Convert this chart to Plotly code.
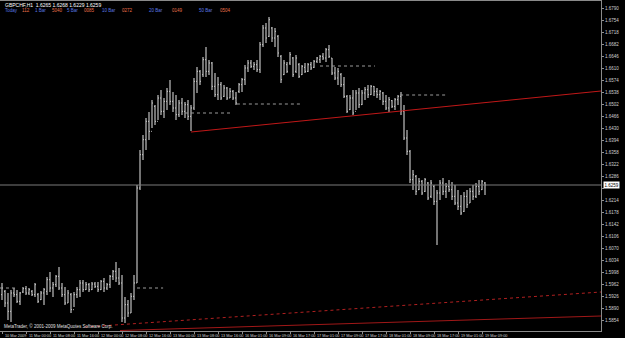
import plotly.graph_objects as go

# ---------------- data ----------------
bar_index = list(range(162))
open_ = [1.5930,1.5940,1.5905,1.5880,1.5935,1.5930,1.5910,1.5938,1.5948,1.5935,
         1.5940,1.5930,1.5930,1.5915,1.5935,1.5940,1.5975,1.5950,1.5960,1.5985,
         1.5950,1.5930,1.5905,1.5930,1.5885,1.5930,1.5945,1.5965,1.5945,1.5960,
         1.5945,1.5962,1.5955,1.5945,1.5970,1.5950,1.5960,1.5985,1.6000,1.5980,
         1.5965,1.5860,1.5900,1.5875,1.5925,1.5965,1.6250,1.6350,1.6395,1.6450,
         1.6420,1.6495,1.6450,1.6520,1.6480,1.6510,1.6540,1.6510,1.6490,1.6470,
         1.6505,1.6480,1.6500,1.6465,1.6490,1.6570,1.6600,1.6590,1.6635,1.6600,
         1.6625,1.6555,1.6530,1.6560,1.6525,1.6550,1.6520,1.6540,1.6520,1.6540,
         1.6560,1.6575,1.6610,1.6625,1.6615,1.6620,1.6605,1.6680,1.6730,1.6705,
         1.6730,1.6700,1.6705,1.6645,1.6590,1.6620,1.6625,1.6640,1.6600,1.6620,
         1.6590,1.6612,1.6600,1.6620,1.6612,1.6630,1.6635,1.6645,1.6640,1.6665,
         1.6640,1.6595,1.6580,1.6590,1.6560,1.6525,1.6485,1.6520,1.6480,1.6535,
         1.6500,1.6535,1.6545,1.6530,1.6555,1.6540,1.6530,1.6535,1.6510,1.6490,
         1.6512,1.6495,1.6515,1.6525,1.6480,1.6400,1.6360,1.6275,1.6285,1.6245,
         1.6270,1.6240,1.6265,1.6225,1.6255,1.6210,1.6235,1.6265,1.6240,1.6255,
         1.6245,1.6225,1.6205,1.6195,1.6180,1.6225,1.6205,1.6240,1.6225,1.6255,
         1.6245,1.6265]
high = [1.5965,1.5944,1.5935,1.5944,1.5950,1.5944,1.5938,1.5953,1.5956,1.5950,
        1.5944,1.5965,1.5935,1.5941,1.5950,1.5983,1.5998,1.5968,1.5989,1.6013,
        1.5965,1.5953,1.5944,1.5935,1.5938,1.5953,1.5974,1.5974,1.5968,1.5965,
        1.5968,1.5968,1.5968,1.5974,1.5980,1.5965,1.5989,1.6004,1.6028,1.6010,
        1.5989,1.5923,1.5914,1.5935,1.5989,1.6259,1.6364,1.6409,1.6460,1.6478,
        1.6514,1.6499,1.6529,1.6544,1.6520,1.6550,1.6574,1.6538,1.6529,1.6514,
        1.6520,1.6508,1.6514,1.6499,1.6580,1.6613,1.6604,1.6643,1.6673,1.6634,
        1.6628,1.6595,1.6583,1.6568,1.6559,1.6553,1.6550,1.6544,1.6538,1.6565,
        1.6580,1.6619,1.6634,1.6634,1.6628,1.6634,1.6688,1.6739,1.6745,1.6763,
        1.6733,1.6730,1.6709,1.6649,1.6634,1.6628,1.6658,1.6643,1.6649,1.6625,
        1.6619,1.6625,1.6625,1.6628,1.6634,1.6643,1.6649,1.6655,1.6670,1.6679,
        1.6640,1.6613,1.6610,1.6595,1.6583,1.6529,1.6529,1.6544,1.6544,1.6550,
        1.6544,1.6553,1.6559,1.6559,1.6556,1.6550,1.6544,1.6538,1.6529,1.6523,
        1.6514,1.6520,1.6529,1.6538,1.6499,1.6424,1.6364,1.6304,1.6289,1.6280,
        1.6274,1.6280,1.6268,1.6274,1.6259,1.6244,1.6274,1.6280,1.6265,1.6274,
        1.6268,1.6259,1.6244,1.6229,1.6238,1.6244,1.6250,1.6259,1.6265,1.6274,
        1.6274,1.6268]
low = [1.5914,1.5893,1.5854,1.5848,1.5923,1.5905,1.5899,1.5935,1.5929,1.5929,
       1.5926,1.5923,1.5905,1.5914,1.5899,1.5929,1.5938,1.5923,1.5953,1.5944,
       1.5923,1.5899,1.5905,1.5875,1.5893,1.5920,1.5923,1.5938,1.5944,1.5938,
       1.5944,1.5950,1.5938,1.5944,1.5938,1.5944,1.5950,1.5974,1.5968,1.5959,
       1.5848,1.5845,1.5863,1.5875,1.5914,1.5965,1.6244,1.6334,1.6364,1.6394,
       1.6430,1.6439,1.6454,1.6469,1.6460,1.6484,1.6499,1.6478,1.6454,1.6463,
       1.6469,1.6460,1.6454,1.6421,1.6484,1.6535,1.6559,1.6583,1.6583,1.6589,
       1.6544,1.6523,1.6514,1.6514,1.6523,1.6514,1.6520,1.6514,1.6499,1.6535,
       1.6538,1.6559,1.6598,1.6610,1.6604,1.6598,1.6595,1.6673,1.6685,1.6703,
       1.6688,1.6673,1.6643,1.6565,1.6589,1.6595,1.6619,1.6583,1.6595,1.6580,
       1.6589,1.6595,1.6598,1.6604,1.6610,1.6625,1.6625,1.6634,1.6628,1.6640,
       1.6589,1.6574,1.6559,1.6553,1.6520,1.6475,1.6484,1.6469,1.6484,1.6490,
       1.6499,1.6514,1.6520,1.6529,1.6526,1.6520,1.6514,1.6499,1.6484,1.6478,
       1.6490,1.6484,1.6499,1.6469,1.6394,1.6349,1.6265,1.6244,1.6229,1.6244,
       1.6229,1.6238,1.6214,1.6220,1.6199,1.6079,1.6214,1.6229,1.6220,1.6238,
       1.6214,1.6199,1.6184,1.6169,1.6178,1.6190,1.6205,1.6214,1.6220,1.6229,
       1.6244,1.6229]
close = [1.5950,1.5905,1.5880,1.5935,1.5930,1.5910,1.5935,1.5948,1.5935,1.5945,
         1.5930,1.5960,1.5910,1.5935,1.5945,1.5975,1.5950,1.5960,1.5985,1.5950,
         1.5930,1.5905,1.5935,1.5885,1.5930,1.5945,1.5965,1.5945,1.5960,1.5945,
         1.5962,1.5955,1.5945,1.5970,1.5950,1.5960,1.5985,1.6000,1.5980,1.5965,
         1.5860,1.5900,1.5875,1.5925,1.5965,1.6250,1.6350,1.6395,1.6450,1.6420,
         1.6505,1.6450,1.6520,1.6480,1.6510,1.6540,1.6510,1.6490,1.6470,1.6505,
         1.6480,1.6500,1.6465,1.6490,1.6570,1.6600,1.6570,1.6635,1.6600,1.6625,
         1.6555,1.6530,1.6560,1.6520,1.6550,1.6520,1.6540,1.6520,1.6505,1.6560,
         1.6575,1.6610,1.6625,1.6615,1.6620,1.6605,1.6680,1.6730,1.6700,1.6755,
         1.6700,1.6720,1.6655,1.6575,1.6625,1.6600,1.6650,1.6590,1.6640,1.6585,
         1.6615,1.6600,1.6620,1.6610,1.6630,1.6640,1.6645,1.6640,1.6665,1.6645,
         1.6595,1.6580,1.6600,1.6560,1.6525,1.6480,1.6520,1.6475,1.6535,1.6500,
         1.6535,1.6545,1.6530,1.6555,1.6540,1.6530,1.6540,1.6510,1.6490,1.6515,
         1.6495,1.6515,1.6525,1.6480,1.6400,1.6360,1.6275,1.6290,1.6240,1.6270,
         1.6235,1.6275,1.6220,1.6265,1.6210,1.6235,1.6265,1.6240,1.6255,1.6245,
         1.6225,1.6205,1.6195,1.6175,1.6225,1.6200,1.6240,1.6225,1.6255,1.6240,
         1.6270,1.6259]

time_labels = ["10 Mar 2009", "11 Mar 00:00", "11 Mar 08:00", "11 Mar 16:00",
               "12 Mar 00:00", "12 Mar 08:00", "12 Mar 16:00", "13 Mar 00:00",
               "13 Mar 08:00", "13 Mar 16:00", "16 Mar 01:00", "16 Mar 09:00",
               "16 Mar 17:00", "17 Mar 01:00", "17 Mar 09:00", "17 Mar 17:00",
               "18 Mar 01:00", "18 Mar 09:00", "18 Mar 17:00", "19 Mar 01:00",
               "19 Mar 09:00"]
time_label_bars = [0, 8, 16, 24, 32, 40, 48, 56, 64, 72, 80, 88, 96, 104, 112,
                   120, 128, 136, 144, 152, 160]

price_ticks = [round(1.6790 - 0.0036 * k, 4) for k in range(27)]

# trend lines (bar index, price)
trend_up_x = [63, 199.67]
trend_up_y = [1.6418, 1.6541]
trend_low_x = [39.33, 199.67]
trend_low_y = [1.58225, 1.5866]
trend_dot_x = [27.67, 199.67]
trend_dot_y = [1.5833, 1.5938]

# dotted horizontal levels: (start bar, end bar, price)
level_start = [-0.67, 45, 61, 78.3, 106, 132.7]
level_end = [4.3, 53.7, 76, 100.3, 124.3, 148.7]
level_price = [1.5950, 1.5950, 1.6475, 1.6502, 1.6616, 1.6529]

info_labels = ["Today", "1 Bar", "5 Bar", "10 Bar", "20 Bar", "50 Bar"]
info_values = ["112", "5040", "0085", "0272", "0149", "0504"]

symbol = "GBPCHF,H1"

# ---------------- figure ----------------
W, H = 625, 338
PLOT_W = 601
PLOT_TOP, PLOT_BOTTOM = 1, 331
FONT = "Liberation Sans"
TXT = "#d0d0d0"

fig = go.Figure()

fig.add_trace(go.Ohlc(
    x=bar_index, open=open_, high=high, low=low, close=close,
    increasing=dict(line=dict(color="#e6e6e6", width=1)),
    decreasing=dict(line=dict(color="#e6e6e6", width=1)),
    tickwidth=0.25, hoverinfo="skip", showlegend=False))

# current price line
last = close[-1]
fig.add_trace(go.Scatter(x=[-1, 201], y=[last, last], mode="lines",
                         line=dict(color="#7a7a7a", width=1),
                         hoverinfo="skip", showlegend=False))

# dotted levels
for s, e, p in zip(level_start, level_end, level_price):
    fig.add_trace(go.Scatter(x=[s, e], y=[p, p], mode="lines",
                             line=dict(color="#9a9a9a", width=1, dash="dot"),
                             hoverinfo="skip", showlegend=False))

# trend lines
fig.add_trace(go.Scatter(x=trend_up_x, y=trend_up_y, mode="lines",
                         line=dict(color="#c01818", width=1),
                         hoverinfo="skip", showlegend=False))
fig.add_trace(go.Scatter(x=trend_low_x, y=trend_low_y, mode="lines",
                         line=dict(color="#a01818", width=1),
                         hoverinfo="skip", showlegend=False))
fig.add_trace(go.Scatter(x=trend_dot_x, y=trend_dot_y, mode="lines",
                         line=dict(color="#b02020", width=1, dash="dot"),
                         hoverinfo="skip", showlegend=False))

def py(ypix):
    return (PLOT_BOTTOM - ypix) / (PLOT_BOTTOM - PLOT_TOP)

def px(xpix):
    return xpix / PLOT_W

ann = []
# header line 1
ann.append(dict(xref="paper", yref="paper", x=px(3), y=py(4.5), xanchor="left",
                yanchor="middle", showarrow=False,
                text=f"{symbol}  {open_[-1]:.4f} {high[-1]:.4f} {low[-1]:.4f} {close[-1]:.4f}",
                font=dict(family=FONT, size=5, color="#ffffff")))
# header line 2
label_x = [3, 33, 65, 100, 147, 197]
value_x = [20, 50, 82, 120, 170, 218]
for lab, val, lx, vx in zip(info_labels, info_values, label_x, value_x):
    ann.append(dict(xref="paper", yref="paper", x=px(lx), y=py(11), xanchor="left",
                    yanchor="middle", showarrow=False, text=lab,
                    font=dict(family=FONT, size=4.5, color="#5a78e0")))
    ann.append(dict(xref="paper", yref="paper", x=px(vx), y=py(11), xanchor="left",
                    yanchor="middle", showarrow=False, text=val,
                    font=dict(family=FONT, size=4.5, color="#e8704a")))
# copyright
ann.append(dict(xref="paper", yref="paper", x=px(2), y=py(326), xanchor="left",
                yanchor="middle", showarrow=False,
                text="MetaTrader, © 2001-2009 MetaQuotes Software Corp.",
                font=dict(family=FONT, size=4.5, color="#e0e0e0")))
# time labels
for b, t in zip(time_label_bars, time_labels):
    ann.append(dict(xref="x", yref="paper", x=b, y=0, xanchor="left",
                    yanchor="top", yshift=-0.5, xshift=0.5, showarrow=False, text=t,
                    font=dict(family=FONT, size=3.8, color=TXT)))
# current price box
ann.append(dict(xref="paper", yref="y", x=1, y=last, xanchor="left",
                yanchor="middle", xshift=2, showarrow=False,
                text=f"{last:.4f}", bgcolor="#ffffff", borderpad=0.5,
                font=dict(family=FONT, size=4.5, color="#000000")))

# hide the tick label that sits under the current price box
tick_text = [("" if abs(v - last) < 0.0015 else f"{v:.4f}") for v in price_ticks]

fig.update_layout(
    width=W, height=H,
    margin=dict(l=0, r=W - PLOT_W, t=PLOT_TOP, b=H - PLOT_BOTTOM),
    paper_bgcolor="#000000", plot_bgcolor="#000000",
    annotations=ann, showlegend=False,
    xaxis=dict(range=[-0.667, 199.667], showgrid=False, zeroline=False,
               rangeslider=dict(visible=False),
               tickvals=time_label_bars, showticklabels=False,
               ticks="outside", ticklen=2, tickcolor="#909090",
               showline=True, mirror=True, linecolor="#8a8a8a", linewidth=1),
    yaxis=dict(range=[1.5821, 1.6811], side="right", showgrid=False,
               zeroline=False, tickvals=price_ticks, ticktext=tick_text,
               ticks="outside", ticklen=2, tickcolor="#909090",
               tickfont=dict(family=FONT, size=4.5, color=TXT),
               showline=True, mirror=True, linecolor="#8a8a8a", linewidth=1),
)

fig.write_html("out.html")
